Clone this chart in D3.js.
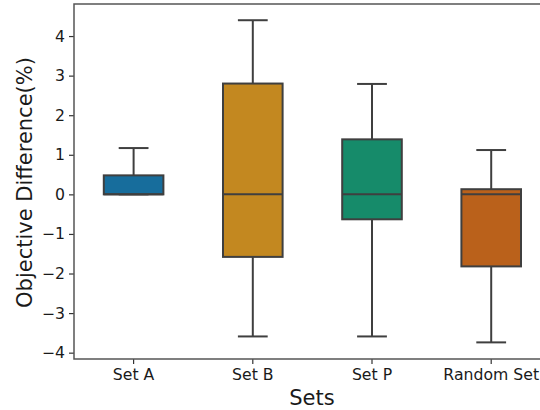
<!DOCTYPE html>
<html>
<head>
<meta charset="utf-8">
<script src="https://cdn.jsdelivr.net/npm/d3@7"></script>
<style>
  html, body { margin: 0; padding: 0; background: #fff; }
  svg { display: block; font-family: "DejaVu Sans", sans-serif; }
</style>
</head>
<body>
<svg id="chart" width="540" height="410"></svg>
<script>
// Box statistics for each set (objective difference, %)
const sets = ["Set A", "Set B", "Set P", "Random Set"];
const whiskerLow = [0.00, -3.59, -3.59, -3.74];
const q1 = [0.00, -1.58, -0.63, -1.82];
const median = [0.00, 0.00, 0.00, 0.00];
const q3 = [0.48, 2.80, 1.39, 0.13];
const whiskerHigh = [1.17, 4.40, 2.79, 1.12];
const yTicks = [-4, -3, -2, -1, 0, 1, 2, 3, 4];
const colors = ["#176d9c", "#c38820", "#168b6a", "#ba611b"];

const boxes = sets.map((s, i) => ({
  set: s, lo: whiskerLow[i], q1: q1[i], med: median[i], q3: q3[i], hi: whiskerHigh[i], color: colors[i]
}));

const svg = d3.select("#chart");
const plotLeft = 74, plotTop = 4, plotBottom = 359;
const bandW = 119.2;
const plotRight = plotLeft + bandW * sets.length;

const x = d3.scaleBand().domain(sets).range([plotLeft, plotRight]).paddingInner(0).paddingOuter(0);
const y = d3.scaleLinear().domain([-4.16, 4.81]).range([plotBottom, plotTop]);

const boxW = x.bandwidth() * 0.5;
const capW = boxW * 0.5;
const lineColor = "#3f3f3f";
const tickFont = 15.7;
const titleFont = 21;

const g = svg.append("g");

boxes.forEach(d => {
  const cx = x(d.set) + x.bandwidth() / 2;
  const grp = g.append("g");
  // whiskers
  grp.append("line").attr("x1", cx).attr("x2", cx).attr("y1", y(d.q3)).attr("y2", y(d.hi))
    .attr("stroke", lineColor).attr("stroke-width", 2);
  grp.append("line").attr("x1", cx).attr("x2", cx).attr("y1", y(d.q1)).attr("y2", y(d.lo))
    .attr("stroke", lineColor).attr("stroke-width", 2);
  // caps
  [d.hi, d.lo].forEach(v => {
    grp.append("line").attr("x1", cx - capW / 2).attr("x2", cx + capW / 2)
      .attr("y1", y(v)).attr("y2", y(v))
      .attr("stroke", lineColor).attr("stroke-width", 2);
  });
  // box
  grp.append("rect")
    .attr("x", cx - boxW / 2).attr("width", boxW)
    .attr("y", y(d.q3)).attr("height", Math.max(0, y(d.q1) - y(d.q3)))
    .attr("fill", d.color).attr("stroke", lineColor).attr("stroke-width", 2);
  // median
  grp.append("line").attr("x1", cx - boxW / 2).attr("x2", cx + boxW / 2)
    .attr("y1", y(d.med)).attr("y2", y(d.med))
    .attr("stroke", lineColor).attr("stroke-width", 2);
});

// axes
const fmt = v => (v < 0 ? "\u2212" + Math.abs(v) : String(v));
const yAxis = d3.axisLeft(y).tickValues(yTicks).tickFormat(fmt).tickSize(5).tickPadding(4);
const yG = svg.append("g").attr("transform", `translate(${plotLeft},0)`).call(yAxis);
yG.select(".domain").remove();
yG.selectAll(".tick line").attr("stroke", "#333").attr("stroke-width", 1.2);
yG.selectAll(".tick text").attr("font-size", tickFont).attr("fill", "#1a1a1a")
  .attr("font-family", "DejaVu Sans");

const xAxis = d3.axisBottom(x).tickSize(5).tickPadding(5);
const xG = svg.append("g").attr("transform", `translate(0,${plotBottom})`).call(xAxis);
xG.select(".domain").remove();
xG.selectAll(".tick line").attr("stroke", "#333").attr("stroke-width", 1.2);
xG.selectAll(".tick text").attr("font-size", tickFont).attr("fill", "#1a1a1a")
  .attr("font-family", "DejaVu Sans");

// frame (spines)
svg.append("rect").attr("x", plotLeft).attr("y", plotTop)
  .attr("width", plotRight - plotLeft).attr("height", plotBottom - plotTop)
  .attr("fill", "none").attr("stroke", "#555").attr("stroke-width", 1.5);

// axis titles
svg.append("text").attr("x", 312).attr("y", 405)
  .attr("text-anchor", "middle").attr("font-size", titleFont).attr("fill", "#1a1a1a")
  .text("Sets");
svg.append("text")
  .attr("transform", `translate(32,182.5) rotate(-90)`)
  .attr("text-anchor", "middle").attr("font-size", titleFont).attr("fill", "#1a1a1a")
  .text("Objective Difference(%)");
</script>
</body>
</html>
